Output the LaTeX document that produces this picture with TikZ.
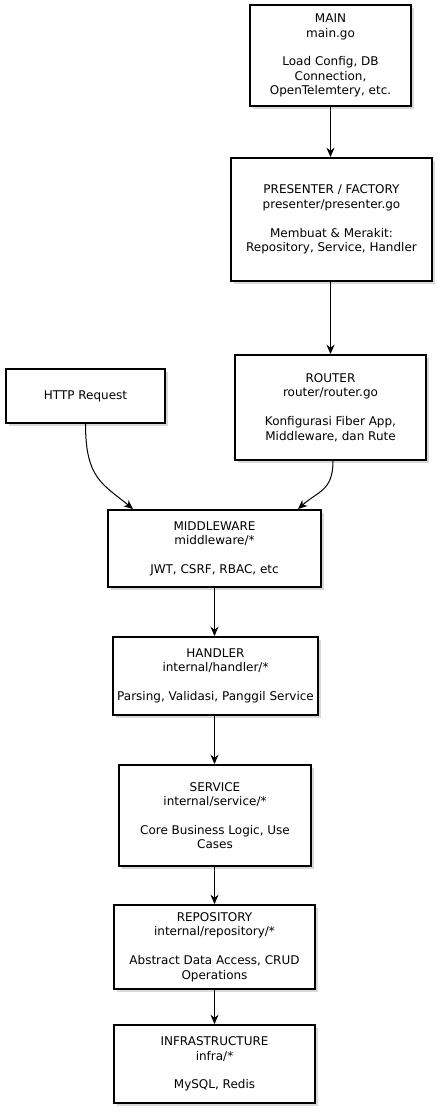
\documentclass[tikz,border=0pt]{standalone}
\usepackage{fontspec}
\setmainfont{DejaVu Sans}
\usetikzlibrary{arrows.meta,shadows,calc}
\tikzset{every picture/.style={line width=0.75pt}}
\tikzset{
  layerbox/.style={draw, line width=1.4pt, fill=white, align=center, inner sep=1pt,
    font=\fontsize{9}{10.8}\selectfont,
    drop shadow={shadow xshift=2pt, shadow yshift=-2pt, opacity=0.3, fill=gray}},
  flow/.style={-{Stealth[length=7pt,width=6pt]}, line width=0.75pt}
}

\begin{document}
\begin{tikzpicture}[x=0.75pt,y=0.75pt,yscale=-1,xscale=1]
\useasboundingbox (0,0) rectangle (438,1112);

% Main
\node [layerbox, minimum width=120.75pt, minimum height=75.75pt] (main) at (330.5,55.5)
  {MAIN\\main.go\\[10.8pt]Load Config, DB\\Connection,\\OpenTelemtery, etc.};
% Presenter / factory
\node [layerbox, minimum width=150.75pt, minimum height=92.25pt] (presenter) at (331.5,219.5)
  {PRESENTER / FACTORY\\presenter/presenter.go\\[10.8pt]Membuat \& Merakit:\\Repository, Service, Handler};
% Router
\node [layerbox, minimum width=143.25pt, minimum height=78.75pt] (router) at (330.5,407.5)
  {ROUTER\\router/router.go\\[10.8pt]Konfigurasi Fiber App,\\Middleware, dan Rute};
% Http request
\node [layerbox, minimum width=119.25pt, minimum height=40.5pt] (http) at (85.5,396)
  {HTTP Request};
% Middleware
\node [layerbox, minimum width=159.75pt, minimum height=57.75pt] (mw) at (214.5,548.5)
  {MIDDLEWARE\\middleware/*\\[10.8pt]JWT, CSRF, RBAC, etc};
% Handler
\node [layerbox, minimum width=153.75pt, minimum height=58.5pt] (handler) at (215.5,676)
  {HANDLER\\internal/handler/*\\[10.8pt]Parsing, Validasi, Panggil Service};
% Service
\node [layerbox, minimum width=144pt, minimum height=75.75pt] (service) at (215,815.5)
  {SERVICE\\internal/service/*\\[10.8pt]Core Business Logic, Use\\Cases};
% Repository
\node [layerbox, minimum width=150.75pt, minimum height=63pt] (repo) at (214.5,947)
  {REPOSITORY\\internal/repository/*\\[10.8pt]Abstract Data Access, CRUD\\Operations};
% Infrastructure
\node [layerbox, minimum width=150.75pt, minimum height=58.5pt] (infra) at (214.5,1064)
  {INFRASTRUCTURE\\infra/*\\[10.8pt]MySQL, Redis};

% Straight flow
\draw [flow] (main.south) -- (main.south |- presenter.north);
\draw [flow] (presenter.south -| main.south) -- (main.south |- router.north);
\draw [flow] (mw.south) -- (mw.south |- handler.north);
\draw [flow] (mw.south |- handler.south) -- (mw.south |- service.north);
\draw [flow] (mw.south |- service.south) -- (mw.south |- repo.north);
\draw [flow] (repo.south) -- (infra.north);

% Curved flow into middleware
\draw [flow] (http.south) .. controls +(0,55) and +(-30,-25) .. ($(mw.north)+(-81.5,0)$);
\draw [flow] ($(router.south)+(2.5,0)$) .. controls +(0,30) and +(20,-18) .. ($(mw.north)+(83.5,0)$);

\end{tikzpicture}
\end{document}
